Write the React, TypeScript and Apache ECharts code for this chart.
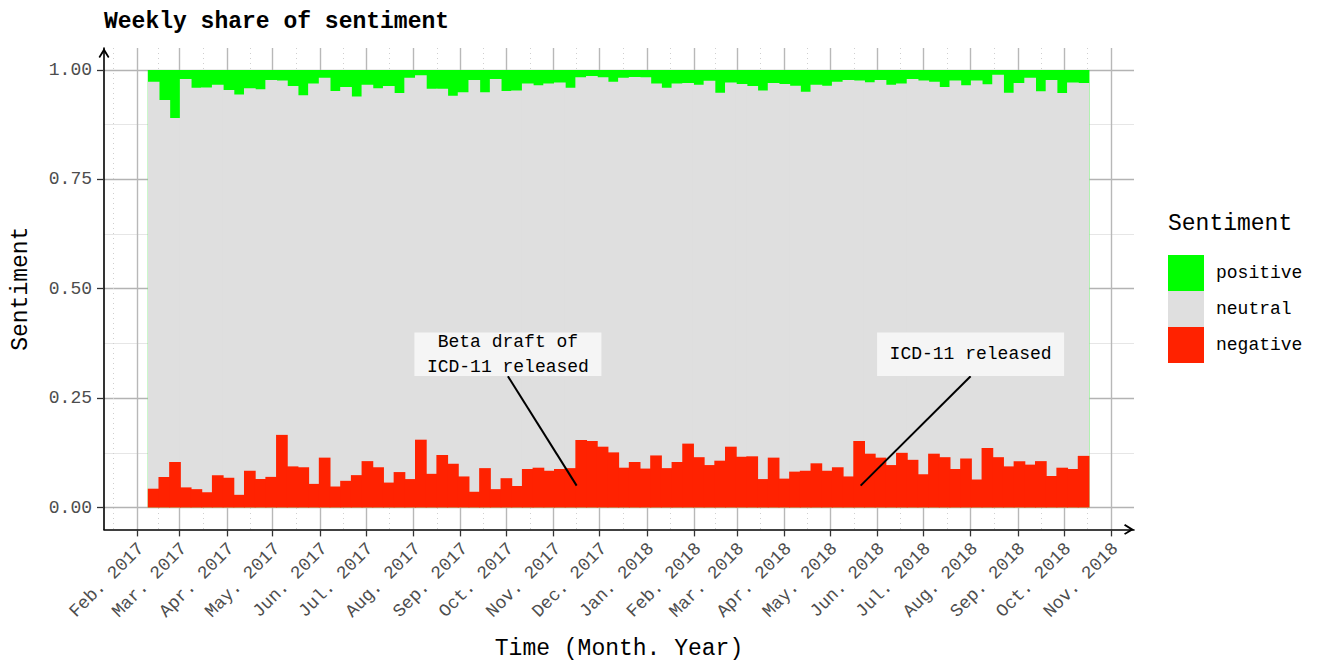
import React, { useEffect, useRef } from "react";
import * as echarts from "echarts";

const MONTH_NAMES = ["Jan", "Feb", "Mar", "Apr", "May", "Jun", "Jul", "Aug", "Sep", "Oct", "Nov", "Dec"];

// first weekly bar (centre)
const FIRST_WEEK = "2017-02-12";

const NEGATIVE = [
  0.043, 0.070, 0.104, 0.046, 0.042, 0.035, 0.074, 0.068, 0.029, 0.084,
  0.065, 0.070, 0.166, 0.094, 0.092, 0.054, 0.114, 0.048, 0.061, 0.074,
  0.106, 0.092, 0.057, 0.081, 0.065, 0.155, 0.077, 0.120, 0.100, 0.071,
  0.036, 0.090, 0.042, 0.067, 0.049, 0.088, 0.091, 0.084, 0.088, 0.090,
  0.154, 0.152, 0.139, 0.126, 0.091, 0.104, 0.089, 0.119, 0.090, 0.104,
  0.146, 0.115, 0.097, 0.107, 0.139, 0.116, 0.117, 0.065, 0.114, 0.066,
  0.082, 0.084, 0.101, 0.084, 0.092, 0.071, 0.152, 0.123, 0.114, 0.097,
  0.125, 0.109, 0.076, 0.123, 0.115, 0.088, 0.112, 0.064, 0.136, 0.115,
  0.094, 0.106, 0.098, 0.106, 0.072, 0.091, 0.088, 0.118,
];

const POSITIVE = [
  0.027, 0.069, 0.110, 0.021, 0.041, 0.040, 0.034, 0.046, 0.056, 0.042,
  0.044, 0.023, 0.024, 0.037, 0.058, 0.031, 0.018, 0.048, 0.039, 0.061,
  0.034, 0.042, 0.037, 0.053, 0.018, 0.012, 0.043, 0.043, 0.059, 0.051,
  0.023, 0.051, 0.021, 0.048, 0.047, 0.031, 0.035, 0.031, 0.029, 0.041,
  0.017, 0.014, 0.017, 0.027, 0.018, 0.016, 0.017, 0.031, 0.041, 0.031,
  0.030, 0.034, 0.025, 0.052, 0.029, 0.032, 0.037, 0.047, 0.030, 0.032,
  0.036, 0.050, 0.034, 0.036, 0.027, 0.023, 0.024, 0.028, 0.023, 0.034,
  0.031, 0.021, 0.024, 0.027, 0.039, 0.024, 0.035, 0.024, 0.033, 0.011,
  0.052, 0.030, 0.018, 0.049, 0.023, 0.053, 0.029, 0.030,
];

const MONTH_TICKS = [
  "2017-02-01", "2017-03-01", "2017-04-01", "2017-05-01", "2017-06-01", "2017-07-01",
  "2017-08-01", "2017-09-01", "2017-10-01", "2017-11-01", "2017-12-01", "2018-01-01",
  "2018-02-01", "2018-03-01", "2018-04-01", "2018-05-01", "2018-06-01", "2018-07-01",
  "2018-08-01", "2018-09-01", "2018-10-01", "2018-11-01",
];
const PRE_TICK = "2017-01-01";

const Y_TICKS = [0, 0.25, 0.5, 0.75, 1];
const Y_MINOR = [0.125, 0.375, 0.625, 0.875];

const X_MIN = "2017-01-10T12:00:00Z";
const X_MAX = "2018-11-16T00:00:00Z";

const ANNOT_TEXT = ["Beta draft of\nICD-11 released", "ICD-11 released"];
const ANNOT_LABEL_DATE = ["2017-10-02", "2018-08-01"];
const ANNOT_POINT_DATE = ["2017-11-16", "2018-05-21"];
const ANNOT_LABEL_Y = 0.35;
const ANNOT_START_Y = 0.3;
const ANNOT_END_Y = 0.05;

const FONT = '"Liberation Mono", "DejaVu Sans Mono", monospace';
const DAY = 86400000;

export default function App() {
  const ref = useRef<HTMLDivElement>(null);

  useEffect(() => {
    if (!ref.current) return;
    const chart = echarts.init(ref.current, undefined, { renderer: "svg" });

    const first = Date.parse(FIRST_WEEK);
    const weeks = NEGATIVE.map((_, i) => first + i * 7 * DAY);
    const neutral = NEGATIVE.map((n, i) => 1 - n - POSITIVE[i]);
    // cumulative tops of the stacked bands (bottom -> top: negative, neutral, positive)
    const topNegative = NEGATIVE.slice();
    const topNeutral = NEGATIVE.map((n, i) => n + neutral[i]);
    const topPositive = NEGATIVE.map((n, i) => n + neutral[i] + POSITIVE[i]);

    const xMin = Date.parse(X_MIN);
    const xMax = Date.parse(X_MAX);
    const majorX = MONTH_TICKS.map((d) => Date.parse(d));
    const allMajor = [Date.parse(PRE_TICK), ...majorX];
    const minorX = allMajor.slice(0, -1).map((d, i) => (d + allMajor[i + 1]) / 2);

    const gridLeft = 104;
    const gridRight = 183;
    const gridWidth = 1317 - gridLeft - gridRight;
    const barWidth = (gridWidth * 7 * DAY) / (xMax - xMin) + 1;

    const mkSeries = (name: string, vals: number[], color: string) => ({
      name,
      type: "bar",
      xAxisIndex: 0,
      yAxisIndex: 0,
      barWidth,
      barGap: "-100%",
      itemStyle: { color, borderWidth: 0 },
      emphasis: { disabled: true },
      data: vals.map((v, i) => [weeks[i], v]),
    });

    const chevron = "path://M5,0 L10,8.2 L8.7,9.2 L5,3.4 L1.3,9.2 L0,8.2 Z";

    const option: any = {
      animation: false,
      title: {
        text: "Weekly share of sentiment",
        left: 104,
        top: 10,
        padding: 0,
        textStyle: { fontFamily: FONT, fontSize: 23, fontWeight: "bold", color: "#000" },
      },
      legend: {
        orient: "vertical",
        left: 1168,
        top: 255,
        padding: 0,
        itemWidth: 36,
        itemHeight: 36,
        itemGap: 0,
        icon: "rect",
        selectedMode: false,
        data: ["positive", "neutral", "negative"],
        textStyle: { fontFamily: FONT, fontSize: 18, color: "#000", padding: [0, 0, 0, 7] },
      },
      grid: {
        left: gridLeft,
        right: gridRight,
        top: 48,
        bottom: 132.6,
        containLabel: false,
        outerBoundsMode: "none",
      },
      xAxis: [
        {
          // visible axis: month ticks, labels, major grid; carries the weekly bars
          type: "value",
          min: xMin,
          max: xMax,
          position: "bottom",
          name: "Time (Month. Year)",
          nameLocation: "middle",
          nameGap: 120,
          nameTextStyle: { fontFamily: FONT, fontSize: 23, color: "#000", verticalAlign: "middle", lineHeight: 20 },
          axisLine: {
            show: true,
            onZero: false,
            lineStyle: { color: "#000", width: 1.6 },
            symbol: ["none", chevron],
            symbolSize: [11, 10],
            symbolOffset: [0, -5],
          },
          axisTick: { show: true, length: 7, customValues: majorX, lineStyle: { color: "#333", width: 1.3 } },
          axisLabel: {
            customValues: majorX,
            rotate: 45,
            margin: 8,
            align: "right",
            verticalAlign: "top",
            padding: [0, 3, 0, 0],
            fontFamily: FONT,
            fontSize: 18,
            color: "#4d4d4d",
            hideOverlap: false,
            formatter: (v: number) => {
              const d = new Date(v);
              return MONTH_NAMES[d.getUTCMonth()] + ". " + d.getUTCFullYear();
            },
          },
          splitLine: { show: true, lineStyle: { color: "#b8b8b8", width: 1.4 } },
        },
        {
          // minor (mid-month) dotted grid
          type: "value",
          min: xMin,
          max: xMax,
          position: "bottom",
          axisLine: { show: false, onZero: false },
          axisTick: { show: false, customValues: minorX },
          axisLabel: { show: false, customValues: minorX },
          splitLine: { show: true, lineStyle: { color: "#cfcfcf", width: 1, type: [1, 4] } },
        },
      ],
      yAxis: [
        {
          type: "value",
          min: -0.05,
          max: 1.05,
          name: "Sentiment",
          nameLocation: "middle",
          nameGap: 72,
          nameRotate: 90,
          nameTextStyle: { fontFamily: FONT, fontSize: 23, color: "#000" },
          axisLine: {
            show: true,
            onZero: false,
            lineStyle: { color: "#000", width: 1.6 },
            symbol: ["none", chevron],
            symbolSize: [11, 10],
            symbolOffset: [0, -5],
          },
          axisTick: { show: true, length: 7, customValues: Y_TICKS, lineStyle: { color: "#333", width: 1.3 } },
          axisLabel: {
            customValues: Y_TICKS,
            margin: 12,
            fontFamily: FONT,
            fontSize: 18,
            color: "#4d4d4d",
            formatter: (v: number) => v.toFixed(2),
          },
          splitLine: { show: true, lineStyle: { color: "#b3b3b3", width: 1.4 } },
        },
        {
          type: "value",
          min: -0.05,
          max: 1.05,
          position: "left",
          axisLine: { show: false, onZero: false },
          axisTick: { show: false, customValues: Y_MINOR },
          axisLabel: { show: false, customValues: Y_MINOR },
          splitLine: { show: true, lineStyle: { color: "#e6e6e6", width: 1 } },
        },
      ],
      series: [
        mkSeries("positive", topPositive, "#00ff00"),
        mkSeries("neutral", topNeutral, "#dfdfdf"),
        mkSeries("negative", topNegative, "#ff2200"),
      ],
    };

    chart.setOption(option);

    const graphics: any[] = [
      {
        type: "text",
        x: 1168,
        y: 224,
        style: { text: "Sentiment", fontFamily: FONT, fontSize: 23, fill: "#000", verticalAlign: "middle", align: "left" },
      },
    ];
    ANNOT_TEXT.forEach((txt, i) => {
      const lx = Date.parse(ANNOT_LABEL_DATE[i]);
      const px = Date.parse(ANNOT_POINT_DATE[i]);
      const lp = chart.convertToPixel({ xAxisIndex: 0, yAxisIndex: 0 }, [lx, ANNOT_LABEL_Y]) as number[];
      const sp = chart.convertToPixel({ xAxisIndex: 0, yAxisIndex: 0 }, [lx, ANNOT_START_Y]) as number[];
      const ep = chart.convertToPixel({ xAxisIndex: 0, yAxisIndex: 0 }, [px, ANNOT_END_Y]) as number[];
      const w = 187;
      const h = 43.5;
      graphics.push({
        type: "line",
        z: 100,
        shape: { x1: sp[0], y1: sp[1], x2: ep[0], y2: ep[1] },
        style: { stroke: "#000", lineWidth: 2 },
      });
      graphics.push({
        type: "rect",
        z: 100,
        shape: { x: lp[0] - w / 2, y: lp[1] - h / 2, width: w, height: h },
        style: { fill: "#f5f5f5" },
      });
      graphics.push({
        type: "text",
        z: 101,
        x: lp[0],
        y: lp[1],
        style: {
          text: txt,
          fontFamily: FONT,
          fontSize: 18,
          lineHeight: 25,
          fill: "#000",
          align: "center",
          verticalAlign: "middle",
        },
      });
    });
    chart.setOption({ graphic: graphics });

    return () => chart.dispose();
  }, []);

  return <div ref={ref} style={{ position: "absolute", left: 0, top: 0, width: 1317, height: 662 }} />;
}
